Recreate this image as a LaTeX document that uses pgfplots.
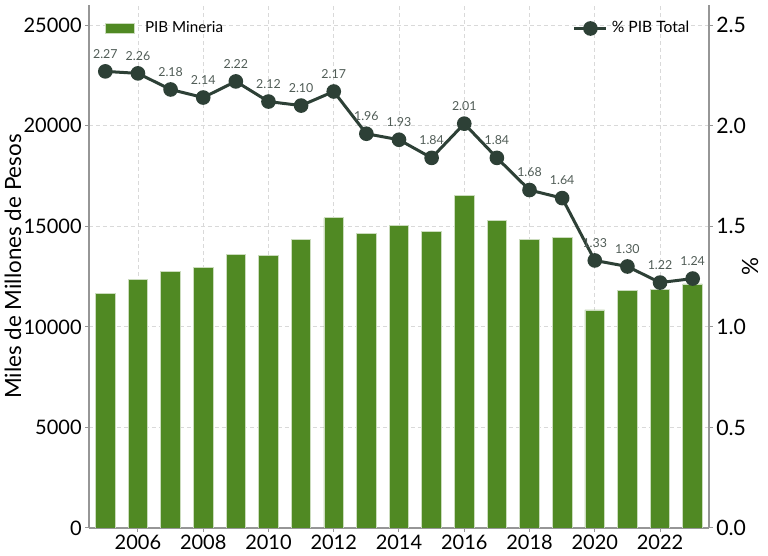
\documentclass[border=0pt]{standalone}
\usepackage{fontspec}
\setmainfont{Lato}
\usepackage{pgfplots}
\pgfplotsset{compat=1.18}
\definecolor{barg}{RGB}{80,137,35}
\definecolor{lineg}{RGB}{45,64,54}
\definecolor{lblc}{RGB}{80,92,86}
\definecolor{spine}{RGB}{150,150,150}

\pgfplotsset{
  common/.style={
    at={(0,0)}, anchor=south west,
    scale only axis, width=310pt, height=261.5pt,
    xmin=2004.5, xmax=2023.5,
    tick align=outside, major tick length=2pt,
    tick style={spine, line width=0.5pt},
    axis line style={spine, line width=0.6pt},
    /pgf/number format/assume math mode=true,
    /pgf/number format/1000 sep={},
    scaled y ticks=false,
    ticklabel style={font=\fontsize{10}{12}\selectfont, text=black, inner sep=1.5pt},
    label style={font=\fontsize{11.2}{13}\selectfont},
  }
}

\begin{document}
\begin{tikzpicture}
\useasboundingbox (-44.5pt,-14pt) rectangle (339.5pt,264pt);
\begin{axis}[
  common,
  ymin=0, ymax=26000,
  axis y line*=left, axis x line*=bottom,
  xtick={2006,2008,...,2022}, ytick={0,5000,...,25000},
  grid=major,
  grid style={dash pattern=on 2pt off 1.5pt, gray!30, line width=0.4pt},
  ylabel={Miles de Millones de Pesos},
  ylabel style={at={(rel axis cs:0,0.5)}, yshift=38pt, anchor=center},
  legend style={draw=none, fill=none, at={(0.015,0.985)}, anchor=north west,
    font=\fontsize{7.6}{9}\selectfont},
  legend image code/.code={\fill[barg, draw=white!70!barg] (0pt,-2.6pt) rectangle (14.5pt,2.6pt);
    \path[draw=none, fill=none] (0pt,0pt) -- (18pt,0pt);},
]
\addplot[ybar, bar width=0.6, fill=barg, draw=white!70!barg, line width=0.4pt]
coordinates {
  (2005,11680) (2006,12360) (2007,12740) (2008,12960) (2009,13580)
  (2010,13550) (2011,14330) (2012,15420) (2013,14650) (2014,15060)
  (2015,14760) (2016,16510) (2017,15310) (2018,14350) (2019,14430)
  (2020,10840) (2021,11800) (2022,11850) (2023,12130)
};
\addlegendentry{PIB Mineria}
\end{axis}

\begin{axis}[
  common,
  ymin=0, ymax=2.6,
  axis y line*=right, axis x line=none,
  ytick={0,0.5,...,2.5},
  yticklabel style={/pgf/number format/.cd, fixed, fixed zerofill, precision=1},
  ticklabel style={font=\fontsize{10.6}{12}\selectfont},
  ylabel={\%},
  ylabel style={at={(rel axis cs:1,0.5)}, yshift=-20.5pt, anchor=center},
  legend style={draw=none, fill=none, at={(0.985,0.985)}, anchor=north east,
    font=\fontsize{7.8}{9}\selectfont},
  legend image code/.code={
    \draw[#1] (0pt,0pt) -- (16pt,0pt);
    \draw[#1, only marks] plot coordinates {(8pt,0pt)};},
]
\addplot[lineg, line width=1.5pt, mark=*, mark size=2.9pt,
  mark options={fill=lineg, draw=lineg},
  nodes near coords, point meta=explicit symbolic,
  every node near coord/.append style={font=\fontsize{6.2}{7}\selectfont, text=lblc, yshift=2.5pt}]
coordinates {
  (2005,2.27) [2.27] (2006,2.26) [2.26] (2007,2.18) [2.18] (2008,2.14) [2.14]
  (2009,2.22) [2.22] (2010,2.12) [2.12] (2011,2.10) [2.10] (2012,2.17) [2.17]
  (2013,1.96) [1.96] (2014,1.93) [1.93] (2015,1.84) [1.84] (2016,2.01) [2.01]
  (2017,1.84) [1.84] (2018,1.68) [1.68] (2019,1.64) [1.64] (2020,1.33) [1.33]
  (2021,1.30) [1.30] (2022,1.22) [1.22] (2023,1.24) [1.24]
};
\addlegendentry{\% PIB Total}
\end{axis}
\end{tikzpicture}
\end{document}
